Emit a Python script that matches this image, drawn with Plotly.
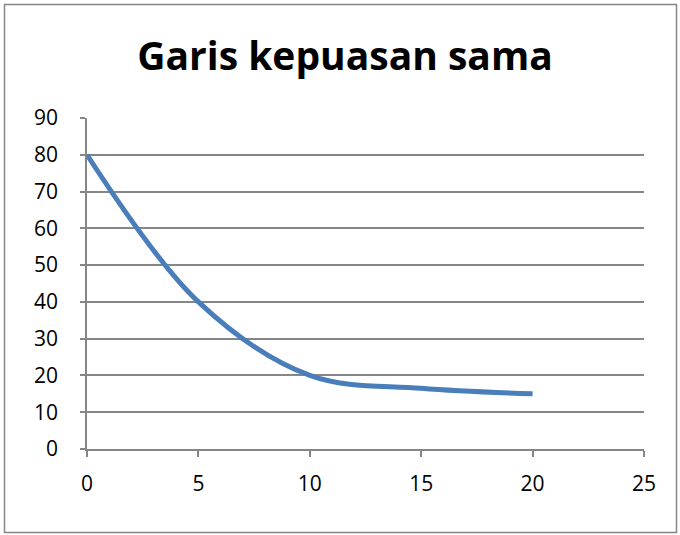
import plotly.graph_objects as go

x_vals = [0, 5, 10, 15, 20]
y_vals = [80, 40, 20, 16.5, 15]
title_text = "Garis kepuasan sama"
x_ticks = [0, 5, 10, 15, 20, 25]
y_ticks = [0, 10, 20, 30, 40, 50, 60, 70, 80, 90]

W, H = 680, 535
L, R, T, B = 87, 36, 118, 86
pw, ph = W - L - R, H - T - B

fig = go.Figure()
fig.add_trace(go.Scatter(
    x=x_vals, y=y_vals, mode="lines",
    line=dict(color="#4a7ebb", width=5, shape="spline", smoothing=1.0),
    showlegend=False, hoverinfo="skip"))

def px_x(p):
    return (p - L) / pw

def px_y(p):
    return (H - B - p) / ph

fig.add_shape(type="rect", xref="paper", yref="paper",
              x0=px_x(4.5), x1=px_x(676.5), y0=px_y(532.5), y1=px_y(4.5),
              line=dict(color="#868686", width=1.5), layer="below")

grid = "#868686"
tick_font = dict(size=21, family="Open Sans, sans-serif", color="black")
fig.update_layout(
    width=W, height=H,
    margin=dict(l=L, r=R, t=T, b=B, autoexpand=False),
    paper_bgcolor="white", plot_bgcolor="white",
    font=dict(family="Open Sans, sans-serif", color="black", size=21),
    title=dict(text="<b>" + title_text + "</b>", x=345 / W, xanchor="center",
               y=1 - 56 / H, yanchor="middle",
               font=dict(size=39, family="Open Sans, sans-serif", color="black")),
    xaxis=dict(range=[0, 25], tickvals=x_ticks, ticktext=[str(v) for v in x_ticks],
               showgrid=False, zeroline=False, showline=True, linecolor=grid, linewidth=1.8,
               ticks="outside", ticklen=6, tickcolor=grid, tickwidth=1.8,
               ticklabelstandoff=9,
               tickfont=tick_font, fixedrange=True),
    yaxis=dict(range=[0, 90], tickvals=y_ticks, ticktext=[str(v) for v in y_ticks],
               showgrid=True, gridcolor=grid, gridwidth=1.8, zeroline=False,
               showline=True, linecolor=grid, linewidth=1.8,
               ticks="outside", ticklen=5, tickcolor=grid, tickwidth=1.8,
               ticklabelstandoff=18,
               tickfont=tick_font, fixedrange=True),
)

fig.write_html("out.html", config={"displayModeBar": False},
               post_script="document.body.style.margin='0';")
